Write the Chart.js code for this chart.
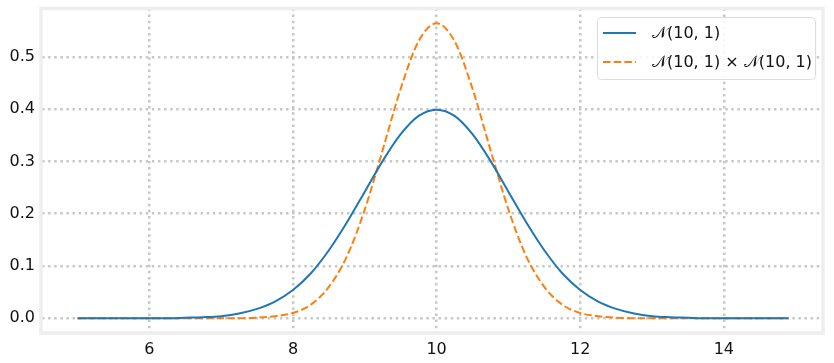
<!DOCTYPE html>
<html>
<head>
<meta charset="utf-8">
<script src="https://cdn.jsdelivr.net/npm/chart.js@4.4.0/dist/chart.umd.min.js"></script>
<style>
  html, body { margin: 0; padding: 0; background: #fff; }
  #wrap { width: 834px; height: 363px; position: relative; }
</style>
</head>
<body>
<div id="wrap"><canvas id="pdfChart"></canvas></div>
<script>
// valores
const xValues = [5, 5.25, 5.5, 5.75, 6, 6.25, 6.5, 6.75, 7, 7.25, 7.5, 7.75, 8, 8.25, 8.5, 8.75, 9, 9.25, 9.5, 9.75,
                 10, 10.25, 10.5, 10.75, 11, 11.25, 11.5, 11.75, 12, 12.25, 12.5, 12.75, 13, 13.25, 13.5, 13.75, 14, 14.25, 14.5, 14.75, 14.9];
const normalValues = [0, 0, 0, 0, 0, 0, 0.001, 0.002, 0.004, 0.009, 0.018, 0.032, 0.054, 0.086, 0.130, 0.183, 0.242, 0.301, 0.352, 0.387,
                      0.399, 0.387, 0.352, 0.301, 0.242, 0.183, 0.130, 0.086, 0.054, 0.032, 0.018, 0.009, 0.004, 0.002, 0.001, 0, 0, 0, 0, 0, 0];
const productValues = [0, 0, 0, 0, 0, 0, 0, 0, 0, 0, 0.001, 0.004, 0.010, 0.026, 0.060, 0.118, 0.208, 0.322, 0.439, 0.530,
                       0.564, 0.530, 0.439, 0.322, 0.208, 0.118, 0.060, 0.026, 0.010, 0.004, 0.001, 0, 0, 0, 0, 0, 0, 0, 0, 0, 0];
const seriesLabels = ['\u{1D4A9}(10, 1)', '\u{1D4A9}(10, 1) \u00D7 \u{1D4A9}(10, 1)'];
const xTicks = [6, 8, 10, 12, 14];
const yTicks = [0, 0.1, 0.2, 0.3, 0.4, 0.5];

const toPoints = (ys) => xValues.map((x, i) => ({ x: x, y: ys[i] }));

// moldura cinza + legenda desenhada à mão
const framePlugin = {
    id: 'frameLegend',
    afterDraw(chart) {
        const ctx = chart.ctx;
        const a = chart.chartArea;
        ctx.save();
        ctx.strokeStyle = '#eeeeee';
        ctx.lineWidth = 3.5;
        ctx.strokeRect(a.left - 1, a.top, a.right - a.left, a.bottom - a.top);

        // legenda
        const bx = 597, by = 17, bw = 218, bh = 62;
        ctx.beginPath();
        ctx.roundRect(bx + 0.5, by + 0.5, bw, bh, 4);
        ctx.fillStyle = 'rgba(255,255,255,0.85)';
        ctx.fill();
        ctx.strokeStyle = '#dcdcdc';
        ctx.lineWidth = 1;
        ctx.stroke();

        const rows = [33, 62];
        chart.data.datasets.forEach((ds, i) => {
            ctx.beginPath();
            ctx.strokeStyle = ds.borderColor;
            ctx.lineWidth = ds.borderWidth;
            ctx.setLineDash(ds.borderDash || []);
            ctx.moveTo(603, rows[i]);
            ctx.lineTo(636, rows[i]);
            ctx.stroke();
            ctx.setLineDash([]);
            ctx.fillStyle = '#111';
            ctx.font = '16px "DejaVu Sans"';
            ctx.textBaseline = 'middle';
            ctx.fillText(ds.label, 652, rows[i] + 1);
        });
        ctx.restore();
    }
};

const gridStyle = {
    color: '#c8c8c8',
    lineWidth: 2.5,
    drawTicks: false
};

const noPadding = (s) => { s.paddingTop = 0; s.paddingBottom = 0; s.paddingLeft = 0; s.paddingRight = 0; };

new Chart(document.getElementById('pdfChart'), {
    type: 'line',
    data: {
        datasets: [{
            label: seriesLabels[0],
            data: toPoints(normalValues),
            borderColor: '#1f77b4',
            borderWidth: 2,
            pointRadius: 0,
            cubicInterpolationMode: 'monotone',
            fill: false
        }, {
            label: seriesLabels[1],
            data: toPoints(productValues),
            borderColor: '#ff7f0e',
            borderWidth: 2,
            borderDash: [7.5, 3.2],
            pointRadius: 0,
            cubicInterpolationMode: 'monotone',
            fill: false
        }]
    },
    options: {
        responsive: true,
        maintainAspectRatio: false,
        animation: false,
        layout: { padding: { left: 0, right: 10, top: 8.5, bottom: 0 } },
        plugins: {
            legend: { display: false },
            tooltip: { enabled: false }
        },
        scales: {
            x: {
                type: 'linear',
                min: 4.505,
                max: 15.395,
                border: { display: false, dash: [2.5, 3.6] },
                grid: gridStyle,
                afterBuildTicks: (s) => { s.ticks = xTicks.map(v => ({ value: v })); },
                afterFit: (s) => { s.height = 30; noPadding(s); },
                ticks: {
                    color: '#111',
                    font: { family: 'DejaVu Sans', size: 16 },
                    padding: 7,
                    maxRotation: 0,
                    callback: (v) => String(v)
                }
            },
            y: {
                min: -0.0282,
                max: 0.5924,
                border: { display: false, dash: [2.5, 3.6] },
                grid: gridStyle,
                afterBuildTicks: (s) => { s.ticks = yTicks.map(v => ({ value: v })); },
                afterFit: (s) => { s.width = 42; noPadding(s); },
                ticks: {
                    color: '#111',
                    font: { family: 'DejaVu Sans', size: 16 },
                    padding: 7,
                    callback: (v) => Number(v).toFixed(1)
                }
            }
        }
    },
    plugins: [framePlugin]
});
</script>
</body>
</html>
